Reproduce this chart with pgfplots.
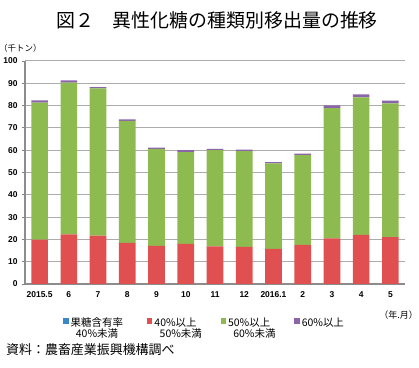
\documentclass[border=0pt]{standalone}
\usepackage{fontspec}
\usepackage{pgfplots}
\usepackage{pgfplotstable}
\pgfplotsset{compat=1.18}
\setmainfont{Liberation Sans}
\newfontfamily\jp{Noto Sans CJK JP}
\definecolor{cblue}{RGB}{58,135,200}
\definecolor{cred}{RGB}{224,80,80}
\definecolor{cgreen}{RGB}{141,187,80}
\definecolor{cpurple}{RGB}{140,100,170}
\newcommand\secondline[1]{\makebox[0pt][l]{\smash{\raisebox{-11bp}{\hspace{0.5em}#1}}}}
\pgfplotstableread{
idx blue red green purple
0 0 19.9 61.4 1.0
1 0 22.2 68.1 1.0
2 0 21.7 66.0 0.6
3 0 18.4 54.7 0.7
4 0 17.1 43.5 0.6
5 0 18.0 41.1 0.9
6 0 16.9 43.1 0.6
7 0 16.6 43.0 0.7
8 0 15.7 38.4 0.5
9 0 17.5 40.3 0.7
10 0 20.5 58.4 1.2
11 0 22.0 61.7 1.3
12 0 21.0 60.0 1.2
}\datatable
\begin{document}
\begin{tikzpicture}
\path[use as bounding box] (0bp,0bp) rectangle (419bp,368bp);
\node[font=\jp\fontsize{19}{19}\selectfont] at (217bp,348bp) {図２　異性化糖の種類別移出量の推移};
\node[font=\jp\fontsize{8.5}{9}\selectfont, anchor=west, inner sep=0pt] at (-1bp,320bp) {（千トン）};
\node[font=\jp\fontsize{9}{10}\selectfont, anchor=east, inner sep=0pt] at (418bp,53bp) {（年.月）};
\node[font=\jp\fontsize{13}{14}\selectfont, anchor=west, inner sep=0pt] at (6bp,18bp) {資料：農畜産業振興機構調べ};
\begin{axis}[
  at={(25bp,84bp)}, anchor=south west,
  width=380bp, height=223bp, scale only axis,
  ybar stacked, bar width=0.57,
  xmin=-0.5, xmax=12.5, ymin=0, ymax=100,
  ytick={0,10,...,100},
  xtick={0,...,12},
  xticklabels={2015.5,6,7,8,9,10,11,12,2016.1,2,3,4,5},
  major x tick style={draw=none},
  extra x ticks={-0.5,0.5,...,12.5},
  extra x tick labels={},
  extra x tick style={grid=none, major tick length=4bp, tick style={draw=gray, line width=0.8pt}},
  tick align=outside,
  major tick length=3bp,
  ytick style={draw=gray, line width=0.8pt},
  ymajorgrids,
  grid style={draw=gray!65, line width=1pt},
  axis x line*=bottom, axis y line*=left,
  axis line style={-, draw=gray!90, line width=1.2pt},
  /pgf/number format/assume math mode=true,
  ticklabel style={font=\bfseries\fontsize{8.5}{9}\selectfont},
  yticklabel style={xshift=-1bp},
  xticklabel style={yshift=-1bp},
  legend columns=4,
  legend style={draw=none, fill=none, inner sep=0pt,
    at={(0.1,-0.142)}, anchor=north west,
    font=\jp\fontsize{10.5}{12.5}\selectfont,
    /tikz/every even column/.append style={column sep=22bp}},
  legend cell align=left,
  legend image code/.code={\fill[#1] (0bp,-0.5bp) rectangle (5.5bp,5bp);},
]
\addplot[fill=cblue, draw=none] table[x=idx, y=blue] {\datatable};
\addlegendentry{\secondline{40\%未満}果糖含有率}
\addplot[fill=cred, draw=none] table[x=idx, y=red] {\datatable};
\addlegendentry{\secondline{50\%未満}40\%以上}
\addplot[fill=cgreen, draw=none] table[x=idx, y=green] {\datatable};
\addlegendentry{\secondline{60\%未満}50\%以上}
\addplot[fill=cpurple, draw=none] table[x=idx, y=purple] {\datatable};
\addlegendentry{60\%以上}
\end{axis}
\end{tikzpicture}
\end{document}
